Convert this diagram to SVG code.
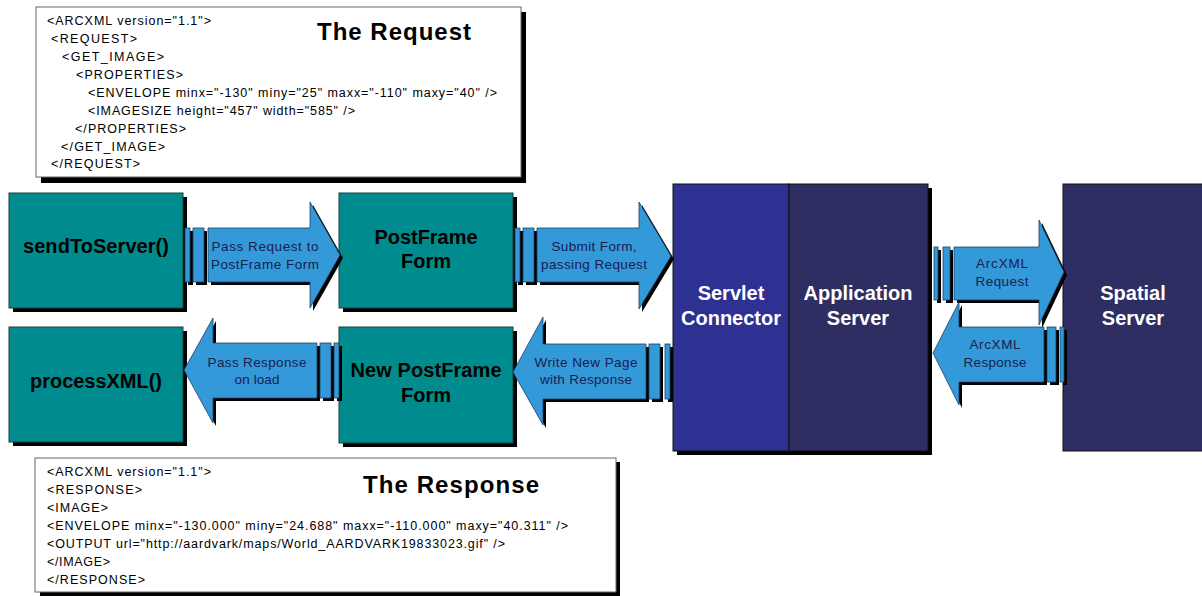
<svg xmlns="http://www.w3.org/2000/svg" width="1202" height="596" viewBox="0 0 1202 596">
<style>
.note{fill:#fff;stroke:#666;stroke-width:1}
.shadow{fill:#000}
.teal{fill:#008C8E;stroke:#1f3f3f;stroke-width:1}
.arrow{fill:#3399D9;stroke:#1f3f5f;stroke-width:0.8}
.xml{font-family:"Liberation Sans",Arial,sans-serif;font-size:12.5px;fill:#000}
.title{font-family:"Liberation Sans",Arial,sans-serif;font-size:24px;font-weight:bold;fill:#000}
.node{font-family:"Liberation Sans",Arial,sans-serif;font-size:20px;font-weight:bold;fill:#000;text-anchor:middle}
.wnode{font-family:"Liberation Sans",Arial,sans-serif;font-size:20px;font-weight:bold;fill:#fff;text-anchor:middle}
.lbl{font-family:"Liberation Sans",Arial,sans-serif;font-size:13.5px;fill:#1a2050;text-anchor:middle}
</style>
<rect width="1202" height="596" fill="#fff"/>

<g id="request-note">
<rect class="shadow" x="41" y="12" width="485" height="171"/>
<rect class="note" x="36" y="7" width="485" height="170"/>
<text class="xml" x="47" y="25" textLength="164" lengthAdjust="spacing">&lt;ARCXML version="1.1"&gt;</text>
<text class="xml" x="51" y="43" textLength="86" lengthAdjust="spacing">&lt;REQUEST&gt;</text>
<text class="xml" x="62" y="61" textLength="102" lengthAdjust="spacing">&lt;GET_IMAGE&gt;</text>
<text class="xml" x="76" y="79" textLength="107" lengthAdjust="spacing">&lt;PROPERTIES&gt;</text>
<text class="xml" x="88" y="97" textLength="409" lengthAdjust="spacing">&lt;ENVELOPE minx="-130" miny="25" maxx="-110" maxy="40" /&gt;</text>
<text class="xml" x="88" y="115" textLength="267" lengthAdjust="spacing">&lt;IMAGESIZE height="457" width="585" /&gt;</text>
<text class="xml" x="75" y="133" textLength="111" lengthAdjust="spacing">&lt;/PROPERTIES&gt;</text>
<text class="xml" x="61" y="151" textLength="104" lengthAdjust="spacing">&lt;/GET_IMAGE&gt;</text>
<text class="xml" x="51" y="168" textLength="89" lengthAdjust="spacing">&lt;/REQUEST&gt;</text>
<text class="title" x="317" y="40" textLength="154" lengthAdjust="spacing">The Request</text>
</g>

<g id="response-note">
<rect class="shadow" x="40" y="462" width="580" height="134"/>
<rect class="note" x="35" y="458" width="581" height="134"/>
<text class="xml" x="47" y="476" textLength="164" lengthAdjust="spacing">&lt;ARCXML version="1.1"&gt;</text>
<text class="xml" x="47" y="494" textLength="95" lengthAdjust="spacing">&lt;RESPONSE&gt;</text>
<text class="xml" x="47" y="512" textLength="61" lengthAdjust="spacing">&lt;IMAGE&gt;</text>
<text class="xml" x="47" y="530" textLength="521" lengthAdjust="spacing">&lt;ENVELOPE minx="-130.000" miny="24.688" maxx="-110.000" maxy="40.311" /&gt;</text>
<text class="xml" x="47" y="548" textLength="458" lengthAdjust="spacing">&lt;OUTPUT url="http://aardvark/maps/World_AARDVARK19833023.gif" /&gt;</text>
<text class="xml" x="47" y="566" textLength="63" lengthAdjust="spacing">&lt;/IMAGE&gt;</text>
<text class="xml" x="47" y="584" textLength="98" lengthAdjust="spacing">&lt;/RESPONSE&gt;</text>
<text class="title" x="363" y="493" textLength="176" lengthAdjust="spacing">The Response</text>
</g>

<g id="sendToServer">
<rect class="shadow" x="13" y="197" width="174" height="115"/>
<rect class="teal" x="9" y="193" width="174" height="115"/>
<text class="node" x="96" y="253" textLength="146" lengthAdjust="spacing">sendToServer()</text>
</g>

<g id="processXML">
<rect class="shadow" x="13" y="331" width="174" height="115"/>
<rect class="teal" x="9" y="327" width="174" height="115"/>
<text class="node" x="96" y="388" textLength="132" lengthAdjust="spacing">processXML()</text>
</g>

<g id="postframe">
<rect class="shadow" x="343" y="197" width="174" height="115"/>
<rect class="teal" x="339" y="193" width="174" height="115"/>
<text class="node" x="426" y="244" textLength="103" lengthAdjust="spacing">PostFrame</text>
<text class="node" x="426" y="268">Form</text>
</g>

<g id="new-postframe">
<rect class="shadow" x="343" y="331" width="174" height="116"/>
<rect class="teal" x="339" y="327" width="174" height="116"/>
<text class="node" x="426" y="377" textLength="151" lengthAdjust="spacing">New PostFrame</text>
<text class="node" x="426" y="402">Form</text>
</g>

<g id="server-block">
<rect class="shadow" x="677" y="188" width="255" height="267"/>
<g id="servlet-connector">
<rect x="673" y="184" width="116" height="267" fill="#2E3192" stroke="#111" stroke-width="1"/>
<text class="wnode" x="731" y="300">Servlet</text>
<text class="wnode" x="731" y="325">Connector</text>
</g>
<g id="application-server">
<rect x="789" y="184" width="139" height="267" fill="#2F2E62" stroke="#111" stroke-width="1"/>
<text class="wnode" x="858" y="300">Application</text>
<text class="wnode" x="858" y="325">Server</text>
</g>
</g>

<g id="spatial-server">
<rect x="1063" y="184" width="145" height="267" fill="#2F2E62" stroke="#111" stroke-width="1"/>
<text class="wnode" x="1133" y="300">Spatial</text>
<text class="wnode" x="1133" y="325">Server</text>
</g>

<g id="connectors">
<g>
<rect class="shadow" x="188" y="231" width="5" height="54"/>
<rect class="shadow" x="196" y="231" width="11" height="54"/>
<polygon class="shadow" points="211,231 313,231 313,205 343,258 313,311 313,285 211,285"/>
<rect class="arrow" x="185" y="228" width="5" height="54"/>
<rect class="arrow" x="193" y="228" width="11" height="54"/>
<polygon class="arrow" points="208,228 310,228 310,202 340,255 310,308 310,282 208,282"/>
<text class="lbl" x="265" y="251" textLength="107" lengthAdjust="spacing">Pass Request to</text>
<text class="lbl" x="265" y="269" textLength="108" lengthAdjust="spacing">PostFrame Form</text>
</g>
<g>
<rect class="shadow" x="518" y="231" width="5" height="54"/>
<rect class="shadow" x="526" y="231" width="11" height="54"/>
<polygon class="shadow" points="540,231 642,231 642,205 674,259 642,312 642,285 540,285"/>
<rect class="arrow" x="515" y="228" width="5" height="54"/>
<rect class="arrow" x="523" y="228" width="11" height="54"/>
<polygon class="arrow" points="537,228 639,228 639,202 671,256 639,309 639,282 537,282"/>
<text class="lbl" x="594" y="251" textLength="85" lengthAdjust="spacing">Submit Form,</text>
<text class="lbl" x="594" y="269" textLength="106" lengthAdjust="spacing">passing Request</text>
</g>
<g>
<rect class="shadow" x="337" y="346" width="5" height="55"/>
<rect class="shadow" x="323" y="346" width="11" height="55"/>
<polygon class="shadow" points="320,346 216,346 216,321 187,373 216,426 216,401 320,401"/>
<rect class="arrow" x="334" y="343" width="5" height="55"/>
<rect class="arrow" x="320" y="343" width="11" height="55"/>
<polygon class="arrow" points="317,343 213,343 213,318 184,370 213,423 213,398 317,398"/>
<text class="lbl" x="257" y="367" textLength="99" lengthAdjust="spacing">Pass Response</text>
<text class="lbl" x="257" y="384" textLength="45" lengthAdjust="spacing">on load</text>
</g>
<g>
<rect class="shadow" x="668" y="347" width="5" height="55"/>
<rect class="shadow" x="652" y="347" width="11" height="55"/>
<polygon class="shadow" points="649,347 546,347 546,320 516,375 546,428 546,402 649,402"/>
<rect class="arrow" x="665" y="344" width="5" height="55"/>
<rect class="arrow" x="649" y="344" width="11" height="55"/>
<polygon class="arrow" points="646,344 543,344 543,317 513,372 543,425 543,399 646,399"/>
<text class="lbl" x="586" y="367" textLength="103" lengthAdjust="spacing">Write New Page</text>
<text class="lbl" x="586" y="384" textLength="92" lengthAdjust="spacing">with Response</text>
</g>
<g>
<rect class="shadow" x="937" y="250" width="4" height="53"/>
<rect class="shadow" x="946" y="250" width="7" height="53"/>
<polygon class="shadow" points="957,250 1042,250 1042,223 1067,275 1042,328 1042,303 957,303"/>
<rect class="arrow" x="934" y="247" width="4" height="53"/>
<rect class="arrow" x="943" y="247" width="7" height="53"/>
<polygon class="arrow" points="954,247 1039,247 1039,220 1064,272 1039,325 1039,300 954,300"/>
<text class="lbl" x="1002" y="268" textLength="52" lengthAdjust="spacing">ArcXML</text>
<text class="lbl" x="1002" y="286" textLength="53" lengthAdjust="spacing">Request</text>
</g>
<g>
<rect class="shadow" x="1063" y="330" width="4" height="55"/>
<rect class="shadow" x="1050" y="330" width="9" height="55"/>
<polygon class="shadow" points="1047,330 962,330 962,305 936,356 962,408 962,385 1047,385"/>
<rect class="arrow" x="1060" y="327" width="4" height="55"/>
<rect class="arrow" x="1047" y="327" width="9" height="55"/>
<polygon class="arrow" points="1044,327 959,327 959,302 933,353 959,405 959,382 1044,382"/>
<text class="lbl" x="995" y="349" textLength="51" lengthAdjust="spacing">ArcXML</text>
<text class="lbl" x="995" y="367" textLength="63" lengthAdjust="spacing">Response</text>
</g>
</g>
</svg>
